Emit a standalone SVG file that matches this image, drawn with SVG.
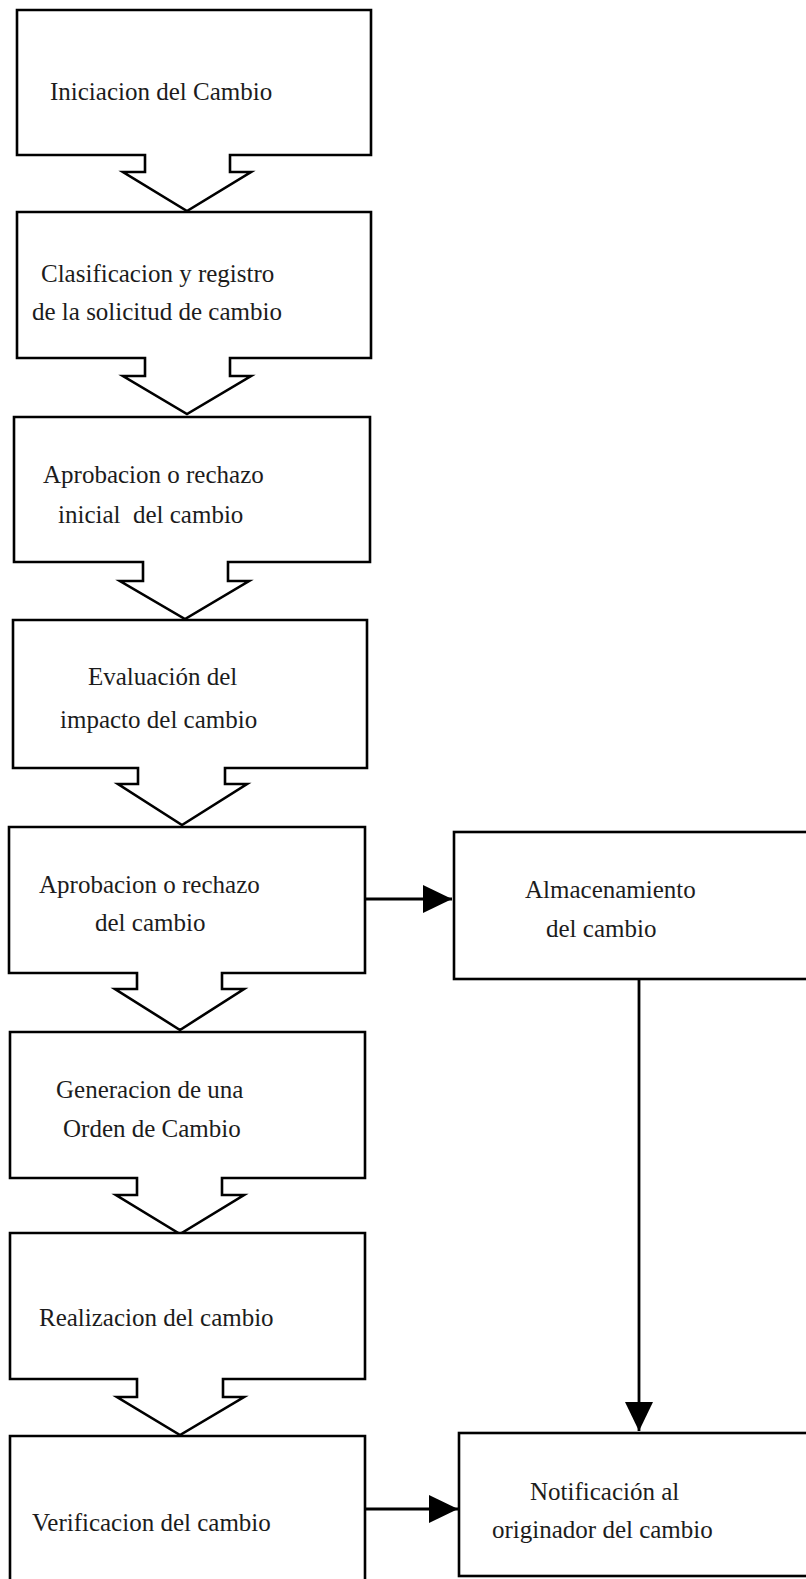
<svg xmlns="http://www.w3.org/2000/svg" width="806" height="1579" viewBox="0 0 806 1579">
  <style>
    .shape { fill: #ffffff; stroke: #000000; stroke-width: 2.6; stroke-linejoin: miter; }
    .label { font-family: "Liberation Serif", "Times New Roman", serif; font-size: 25px; fill: #1c1c1c; }
    .link { fill: none; stroke: #000000; stroke-width: 2.8; }
  </style>
  <defs>
    <marker id="head" markerUnits="userSpaceOnUse" markerWidth="30" markerHeight="28" refX="29" refY="14" orient="auto">
      <path d="M0,0 L29,14 L0,28 Z" fill="#000000"/>
    </marker>
  </defs>
  <rect x="0" y="0" width="806" height="1579" fill="#ffffff"/>

  <!-- process steps: box with attached down-arrow callout -->
  <g id="iniciacion">
    <path class="shape" d="M17,10 H371 V155 H230 V172 H251 L187,211 L123,172 H145 V155 H17 Z"/>
    <text class="label" x="50" y="100">Iniciacion del Cambio</text>
  </g>
  <g id="clasificacion">
    <path class="shape" d="M17,212 H371 V358 H230 V376 H251 L187,414 L123,376 H145 V358 H17 Z"/>
    <text class="label" x="41" y="282">Clasificacion y registro</text>
    <text class="label" x="32" y="320">de la solicitud de cambio</text>
  </g>
  <g id="aprobacion-inicial">
    <path class="shape" d="M14,417 H370 V562 H228 V581 H249 L185,619 L120,581 H143 V562 H14 Z"/>
    <text class="label" x="43" y="483">Aprobacion o rechazo</text>
    <text class="label" x="58" y="523" xml:space="preserve">inicial  del cambio</text>
  </g>
  <g id="evaluacion">
    <path class="shape" d="M13,620 H367 V768 H225 V784 H247 L182,825 L118,784 H138 V768 H13 Z"/>
    <text class="label" x="88" y="685">Evaluación del</text>
    <text class="label" x="60" y="728">impacto del cambio</text>
  </g>
  <g id="aprobacion">
    <path class="shape" d="M9,827 H365 V973 H222 V989 H244 L180,1030 L115,989 H137 V973 H9 Z"/>
    <text class="label" x="39" y="893">Aprobacion o rechazo</text>
    <text class="label" x="95" y="931">del cambio</text>
  </g>
  <g id="generacion">
    <path class="shape" d="M10,1032 H365 V1178 H222 V1195 H244 L180,1234 L116,1195 H137 V1178 H10 Z"/>
    <text class="label" x="56" y="1098">Generacion de una</text>
    <text class="label" x="63" y="1137">Orden de Cambio</text>
  </g>
  <g id="realizacion">
    <path class="shape" d="M10,1233 H365 V1379 H223 V1397 H244 L180,1435 L117,1397 H137 V1379 H10 Z"/>
    <text class="label" x="39" y="1326">Realizacion del cambio</text>
  </g>
  <g id="verificacion">
    <path class="shape" d="M10,1590 V1436 H365 V1590"/>
    <text class="label" x="32" y="1531">Verificacion del cambio</text>
  </g>

  <!-- side outputs -->
  <g id="almacenamiento">
    <rect class="shape" x="454" y="832" width="370" height="147"/>
    <text class="label" x="525" y="898">Almacenamiento</text>
    <text class="label" x="546" y="937">del cambio</text>
  </g>
  <g id="notificacion">
    <rect class="shape" x="459" y="1433" width="370" height="143"/>
    <text class="label" x="530" y="1500">Notificación al</text>
    <text class="label" x="492" y="1538">originador del cambio</text>
  </g>

  <!-- connectors -->
  <g id="connectors">
    <path class="link" d="M365,899 H452" marker-end="url(#head)"/>
    <path class="link" d="M639,979 V1431" marker-end="url(#head)"/>
    <path class="link" d="M365,1509 H458" marker-end="url(#head)"/>
  </g>
</svg>
